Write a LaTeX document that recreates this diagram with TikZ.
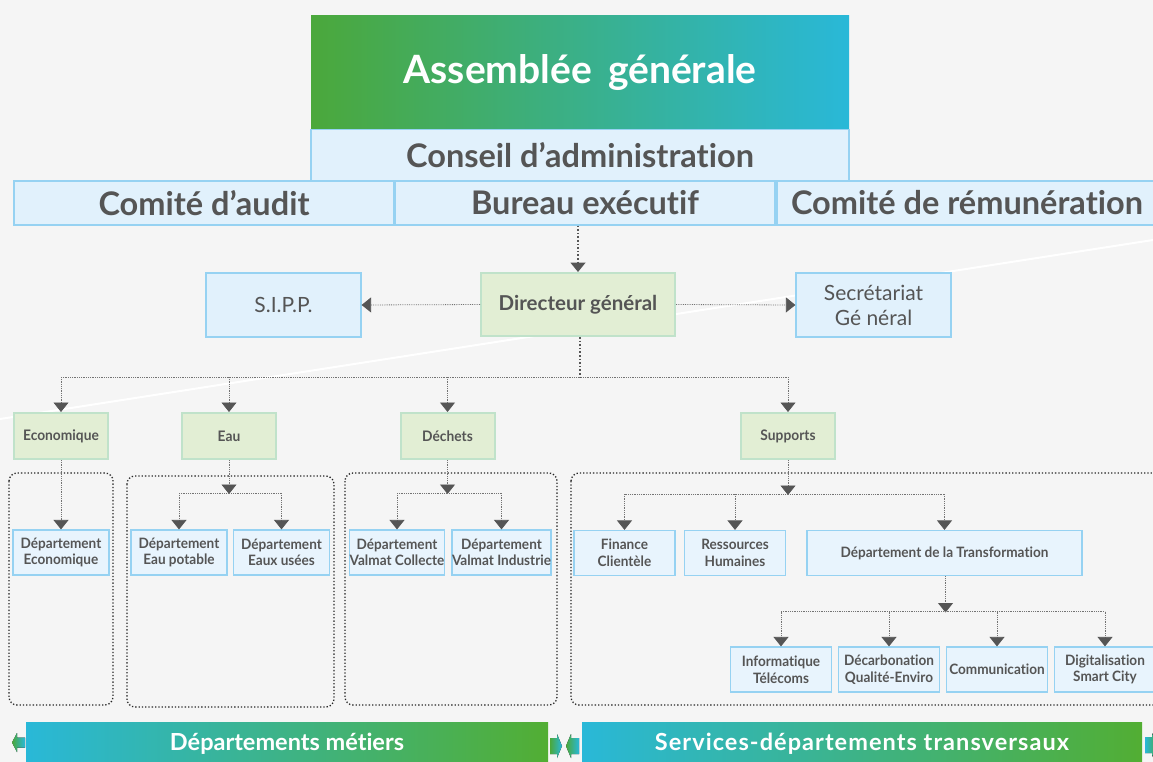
\documentclass[tikz,border=0pt]{standalone}
\usepackage{fontspec}
\setmainfont{Lato}[Ligatures=NoCommon]
\newfontfamily\condfont{Lato}[FakeStretch=0.95, Ligatures=NoCommon]
\usetikzlibrary{arrows.meta}
\definecolor{bg}{HTML}{F5F5F5}
\definecolor{bfill}{HTML}{E1F1FC}
\definecolor{sfill}{HTML}{E8F4FD}
\definecolor{bdraw}{HTML}{96D2F2}
\definecolor{gfill}{HTML}{E2EED4}
\definecolor{gdraw}{HTML}{C0E2CA}
\definecolor{txt}{HTML}{555555}
\definecolor{agreen}{HTML}{4BA83B}
\definecolor{acyan}{HTML}{29B8D8}
\definecolor{bgreen}{HTML}{52AE33}
\tikzset{
  bluebox/.style={draw=bdraw, fill=bfill, line width=1.2pt, text=txt, align=center, inner sep=0pt},
  greenbox/.style={draw=gdraw, fill=gfill, line width=2pt, text=txt, align=center, inner sep=0pt},
  bigbox/.style={bluebox, minimum width=380pt, minimum height=44pt, font=\fontsize{32.5}{36}\selectfont\bfseries},
  midbox/.style={bluebox, minimum width=155pt, minimum height=64pt, font=\fontsize{21}{25}\selectfont},
  catbox/.style={greenbox, minimum width=94pt, minimum height=46pt, font=\condfont\fontsize{14.5}{17}\selectfont\bfseries},
  smallbox/.style={bluebox, fill=sfill, minimum width=96pt, minimum height=45pt, font=\condfont\fontsize{14.3}{16.5}\selectfont\bfseries},
  conn/.style={draw=black!55, densely dotted, line width=0.8pt},
  heavy/.style={draw=txt, dash pattern=on 1.6pt off 2pt, line width=1.6pt},
  arr/.style={-{Triangle[width=15pt,length=9.5pt,color=txt]}},
  grp/.style={draw=black!85, dotted, line width=1.3pt, rounded corners=8pt},
  banner/.style={minimum height=44pt, inner sep=0pt, text=white, font=\fontsize{23.5}{26}\selectfont\bfseries, left color=acyan, right color=bgreen},
  chev/.style={draw=none}
}
\begin{document}
\begin{tikzpicture}[x=1pt,y=-1pt]
\useasboundingbox (0,0) rectangle (1153,762);
\clip (0,0) rectangle (1153,762);
\fill[bg] (0,0) rectangle (1153,762);
% decorative white line
\draw[white, line width=2pt] (0,419) -- (1153,240);

% top structure
\node[minimum width=538pt, minimum height=114pt, inner sep=0pt, left color=agreen, right color=acyan, text=white, font=\fontsize{39}{42}\selectfont\bfseries] (ag) at (580,73) {Assemblée\, générale};
\node[bluebox, minimum width=538pt, minimum height=51pt, font=\fontsize{32.5}{36}\selectfont\bfseries] (ca) at (580,155) {Conseil d’administration};
\node[bigbox] (audit) at (204,203) {Comité d’audit};
\node[bigbox] (bureau) at (585,203) {Bureau exécutif};
\node[bigbox] (remu) at (967,203) {Comité de rémunération};

% direction
\node[greenbox, minimum width=194pt, minimum height=63pt, font=\fontsize{20.5}{24}\selectfont\bfseries] (dg) at (578,304.5) {Directeur général};
\node[midbox] (sipp) at (283.5,305) {S.I.P.P.};
\node[midbox] (sg) at (873.5,305) {Secrétariat\\Gé néral};

\draw[heavy,arr] (dg.north |- bureau.south) -- (dg.north);
\draw[conn,arr] (dg.west) -- (sipp.east);
\draw[conn,arr] (dg.east) -- (sg.west);

% groups
\draw[grp] (9,473) rectangle (113,705);
\draw[grp] (127,476) rectangle (334,707);
\draw[grp] (345,473) rectangle (557,705);
\draw[grp] (571,473) rectangle (1175,705);

% categories
\node[catbox] (eco) at (61,436) {Economique};
\node[catbox] (eau) at (229,436) {Eau};
\node[catbox] (dech) at (447.5,436) {Déchets};
\node[catbox] (sup) at (788,436) {Supports};

\coordinate (hub) at (580,377);
\draw[heavy] (dg.south -| hub) -- (hub);
\draw[conn] (eco.north |- hub) -- (sup.north |- hub);
\draw[conn,arr] (eco.north |- hub) -- (eco.north);
\draw[conn,arr] (eau.north |- hub) -- (eau.north);
\draw[conn,arr] (dech.north |- hub) -- (dech.north);
\draw[conn,arr] (sup.north |- hub) -- (sup.north);

% departments metiers
\node[smallbox] (deco) at (61,552.5) {Département\\Economique};
\node[smallbox] (depot) at (179,552.5) {Département\\Eau potable};
\node[smallbox] (deu) at (281.5,552.5) {Département\\Eaux usées};
\node[smallbox, minimum width=94pt] (vcol) at (397,552.5) {Département\\Valmat Collecte};
\node[smallbox, minimum width=98pt] (vind) at (501.5,552.5) {Département\\Valmat Industrie};

\draw[conn,arr] (eco.south) -- (deco.north);

\coordinate (h2) at (229,493);
\draw[conn,arr] (eau.south) -- ([yshift=-1pt]h2);
\draw[conn] (depot.north |- h2) -- (deu.north |- h2);
\draw[conn,arr] (depot.north |- h2) -- (depot.north);
\draw[conn,arr] (deu.north |- h2) -- (deu.north);

\coordinate (h3) at (447.5,493);
\draw[conn,arr] (dech.south) -- ([yshift=-1pt]h3);
\draw[conn] (vcol.north |- h3) -- (vind.north |- h3);
\draw[conn,arr] (vcol.north |- h3) -- (vcol.north);
\draw[conn,arr] (vind.north |- h3) -- (vind.north);

% supports
\node[smallbox, minimum width=101pt] (fin) at (624.5,553) {Finance\\Clientèle};
\node[smallbox, minimum width=101pt] (rh) at (735,553) {Ressources\\Humaines};
\node[smallbox, minimum width=275pt] (trans) at (944.5,553) {Département de la Transformation};

\coordinate (h4) at (788,494);
\draw[conn,arr] (sup.south) -- ([yshift=-1pt]h4);
\draw[conn] (fin.north |- h4) -- (trans.north |- h4);
\draw[conn,arr] (fin.north |- h4) -- (fin.north);
\draw[conn,arr] (rh.north |- h4) -- (rh.north);
\draw[conn,arr] (trans.north |- h4) -- (trans.north);

\node[smallbox, minimum width=101pt] (inf) at (781,669.5) {Informatique\\Télécoms};
\node[smallbox, minimum width=101pt] (dec) at (889,669.5) {Décarbonation\\Qualité-Enviro};
\node[smallbox, minimum width=101pt] (com) at (997,669.5) {Communication};
\node[smallbox, minimum width=101pt] (dig) at (1105,669.5) {Digitalisation\\Smart City};

\coordinate (h5) at (945.5,611.5);
\draw[conn,arr] (trans.south -| h5) -- ([yshift=-1pt]h5);
\draw[conn] (inf.north |- h5) -- (dig.north |- h5);
\draw[conn,arr] (inf.north |- h5) -- (inf.north);
\draw[conn,arr] (dec.north |- h5) -- (dec.north);
\draw[conn,arr] (com.north |- h5) -- (com.north);
\draw[conn,arr] (dig.north |- h5) -- (dig.north);

% banners
\node[banner, minimum width=522pt] (b1) at (287,744) {Départements métiers};
\node[banner, minimum width=560pt] (b2) at (862,744) {\addfontfeatures{LetterSpace=4.5}Services-départements transversaux};

% small chevron arrows
\fill[chev, left color=agreen, right color=acyan] (12,742.5) -- (17,733) -- (17,737.5) -- (25,737.5) -- (25,747.5) -- (17,747.5) -- (17,752) -- cycle;
\fill[chev, left color=agreen, right color=acyan] (550,738) -- (557,738) -- (557,734) -- (562,746) -- (557,758) -- (557,754) -- (550,754) -- cycle;
\fill[chev, left color=agreen, right color=acyan] (566,746) -- (571,734) -- (571,738) -- (579,738) -- (579,754) -- (571,754) -- (571,758) -- cycle;
\fill[chev, left color=acyan, right color=agreen] (1145,737) -- (1152,737) -- (1152,733) -- (1158,745) -- (1152,757) -- (1152,753) -- (1145,753) -- cycle;
\end{tikzpicture}
\end{document}
